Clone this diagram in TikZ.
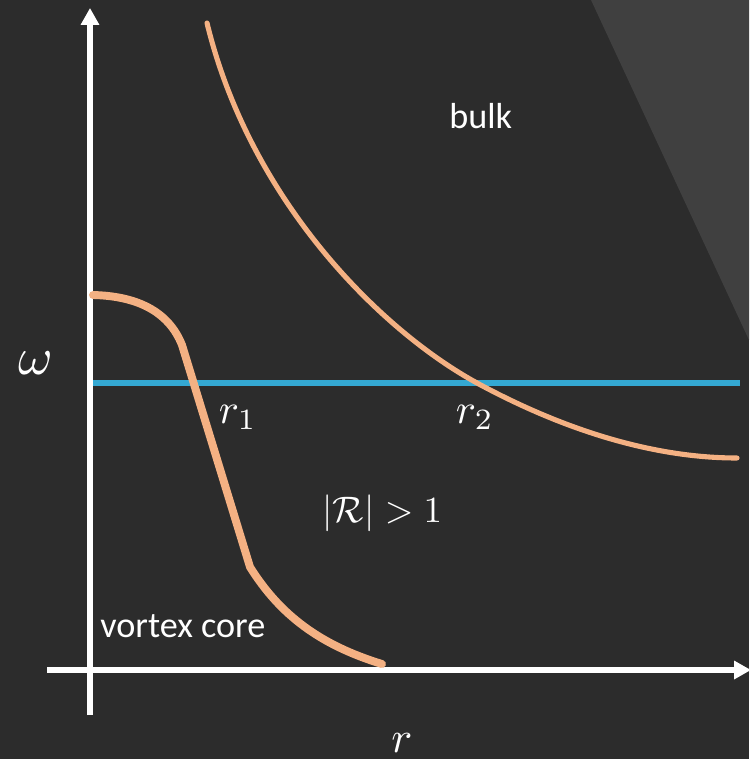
\documentclass[tikz,border=0pt]{standalone}
\usepackage{fontspec}
\newfontfamily\labelfont{Carlito}
\usepackage{tikz}
\usetikzlibrary{arrows.meta, positioning}
\definecolor{bgdark}{RGB}{44,44,44}
\definecolor{bgshade}{RGB}{64,64,64}
\definecolor{curveorange}{RGB}{244,177,131}
\definecolor{lineblue}{RGB}{52,168,210}
\tikzset{
  axis/.style={white, line width=3.4pt, -{Triangle[width=10pt,length=9.6pt]}},
  curve/.style={curveorange, line cap=round, line join=round},
  freqline/.style={lineblue, line width=3.4pt},
  mathlabel/.style={white, inner sep=0pt, font=\normalsize},
  textlabel/.style={white, font=\labelfont\fontsize{20.6}{24}\selectfont, inner sep=0pt}
}

\begin{document}
\begin{tikzpicture}[x=0.02cm, y=-0.02cm]
  % Background
  \fill[bgdark] (0,0) rectangle (749,759);
  \fill[bgshade] (591,0) -- (749,0) -- (749,340) -- cycle;
  \useasboundingbox (0,0) rectangle (749,759);

  % Axis ends
  \coordinate (yfoot) at (90,715);
  \coordinate (ytip) at (90,8);
  \coordinate (xfoot) at (47,670);
  \coordinate (xtip) at (751,670);

  % Axes
  \draw[axis] (yfoot) -- (ytip);
  \draw[axis] (xfoot) -- (xtip);

  % Frequency line
  \coordinate (wleft) at (93,383);
  \coordinate (wright) at (740,383);
  \draw[freqline] (wleft) -- (wright);

  % Core curve
  \coordinate (cstart) at (93,295);
  \coordinate (cbend) at (182,345);
  \coordinate (ckink) at (250,567);
  \coordinate (cend) at (382,664);
  \draw[curve, line width=4.5pt] (cstart) .. controls (135,296) and (168,310) .. (cbend)
    -- (ckink) .. controls (280,615) and (320,645) .. (cend);

  % Bulk curve
  \coordinate (bstart) at (207,23);
  \coordinate (bcross) at (477,383);
  \coordinate (bend) at (737,458);
  \draw[curve, line width=2.9pt] (bstart) .. controls (250,200) and (380,330) .. (bcross)
    .. controls (560,428) and (650,458) .. (bend);

  % Labels
  \node[mathlabel, scale=3] (omega) at (36,363) {$\omega$};
  \node[mathlabel, scale=2.5] (rlabel) at (402,743) {$r$};
  \node[mathlabel, scale=2.4, anchor=base west] (rone) at (218,423) {$r_1$};
  \node[mathlabel, scale=2.4, anchor=base west] (rtwo) at (455,423) {$r_2$};
  \node[mathlabel, scale=2.1, anchor=base west] (refl) at (322,522) {$|\mathcal{R}|>1$};
  \node[textlabel, anchor=base west] (core) at (100,637) {vortex core};
  \node[textlabel, anchor=base west] (bulk) at (449,129) {bulk};
\end{tikzpicture}
\end{document}
